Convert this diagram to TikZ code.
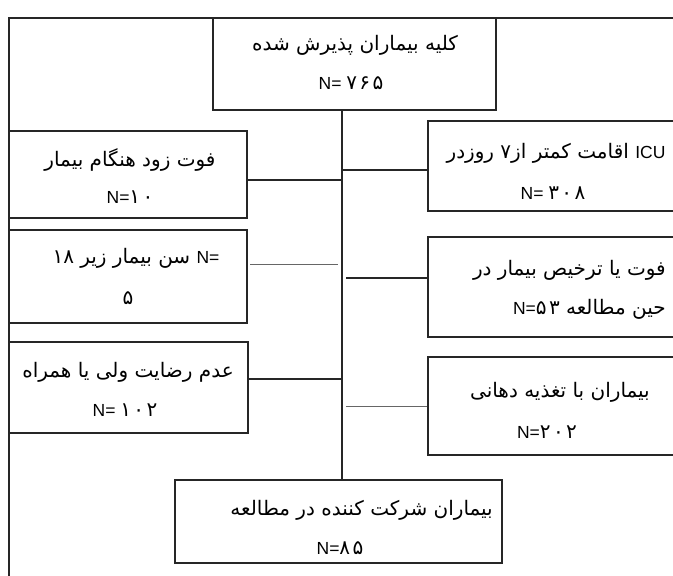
\documentclass[tikz,border=0pt]{standalone}
\usepackage{fontspec}
\TeXXeTstate=1
\newfontfamily\arabicfont[Script=Arabic]{DejaVu Sans}
\newfontfamily\latinfont{Liberation Sans}
\newcommand{\ar}[1]{{\arabicfont\beginR #1\endR}}
\newcommand{\lat}[1]{{\latinfont\fontsize{17.5}{19}\selectfont #1}}
\newcommand{\fa}[1]{{\arabicfont\addfontfeature{LetterSpace=12}#1}}
\begin{document}
\begin{tikzpicture}[x=1pt,y=-1pt,
  box/.style={draw=black!85, line width=1.4pt, rectangle, inner sep=0pt},
  txt/.style={inner sep=0pt, font=\fontsize{20}{22}\selectfont},
  conn/.style={draw=black!85, line width=1.4pt},
  thin/.style={draw=black!60, line width=0.9pt},
  frameline/.style={draw=black!85, line width=1.4pt}]
\useasboundingbox (0,0) rectangle (673,576);
\fill[white] (0,0) rectangle (673,576);
\clip (0,0) rectangle (673,576);

% outer frame
\coordinate (fa) at (690,18);
\coordinate (fb) at (9,18);
\coordinate (fc) at (9,590);
\draw[frameline] (fa) -- (fb) -- (fc);

% boxes
\node[box, minimum width=283pt, minimum height=92pt] (top) at (354.5,64) {};
\node[box, minimum width=238pt, minimum height=87pt] (L1) at (128,174.5) {};
\node[box, minimum width=238pt, minimum height=93pt] (L2) at (128,276.5) {};
\node[box, minimum width=239pt, minimum height=91pt] (L3) at (128.5,387.5) {};
\node[box, minimum width=262pt, minimum height=90pt] (R1) at (559,166) {};
\node[box, minimum width=262pt, minimum height=100pt] (R2) at (559,287) {};
\node[box, minimum width=262pt, minimum height=98pt] (R3) at (559,406) {};
\node[box, minimum width=327pt, minimum height=83pt] (bot) at (338.5,521.5) {};

% texts
\node[txt] (t1) at (355,45) {\ar{كليه بيماران پذيرش شده}};
\node[txt] (t2) at (351,83) {\lat{N= }\fa{۷۶۵}};
\node[txt] (l1a) at (130,160) {\ar{فوت زود هنگام بيمار}};
\node[txt] (l1b) at (130,197) {\lat{N=}\fa{۱۰}};
\node[txt] (l2a) at (136,258) {\ar{\beginL\lat{N=}\endL{} سن بيمار زير ۱۸}};
\node[txt] (l2b) at (128,298) {\fa{۵}};
\node[txt] (l3a) at (128,372) {\ar{عدم رضايت ولی يا همراه}};
\node[txt] (l3b) at (125,410) {\lat{N= }\fa{۱۰۲}};
\node[txt] (r1a) at (556,153) {\ar{\beginL\lat{ICU}\endL{} اقامت كمتر از۷ روزدر}};
\node[txt] (r1b) at (553,193) {\lat{N= }\fa{۳۰۸}};
\node[txt, anchor=east] (r2a) at (666,270) {\ar{فوت يا ترخيص بيمار در}};
\node[txt, anchor=east] (r2b) at (666,309) {\ar{حين مطالعه \beginL\lat{N=}\fa{۵۳}\endL}};
\node[txt] (r3a) at (560,392) {\ar{بيماران با تغذيه دهانی}};
\node[txt] (r3b) at (547,432) {\lat{N=}\fa{۲۰۲}};
\node[txt, anchor=east] (b1) at (493,510) {\ar{بيماران شركت كننده در مطالعه}};
\node[txt] (b2) at (340,548) {\lat{N=}\fa{۸۵}};

% spine
\coordinate (s1) at (342,110);
\coordinate (s2) at (342,480);
\draw[conn] (s1) -- (s2);

% connectors
\coordinate (c1) at (342,180);
\draw[conn] (L1.east |- c1) -- (c1);
\coordinate (c2) at (342,170);
\draw[conn] (c2) -- (R1.west |- c2);
\coordinate (c3a) at (250,264);
\coordinate (c3b) at (338,264);
\draw[thin] (c3a) -- (c3b);
\coordinate (c4) at (346,278);
\draw[conn] (c4) -- (R2.west |- c4);
\coordinate (c5) at (342,379);
\draw[conn] (L3.east |- c5) -- (c5);
\coordinate (c6) at (346,406);
\draw[thin] (c6) -- (R3.west |- c6);
\end{tikzpicture}
\end{document}
